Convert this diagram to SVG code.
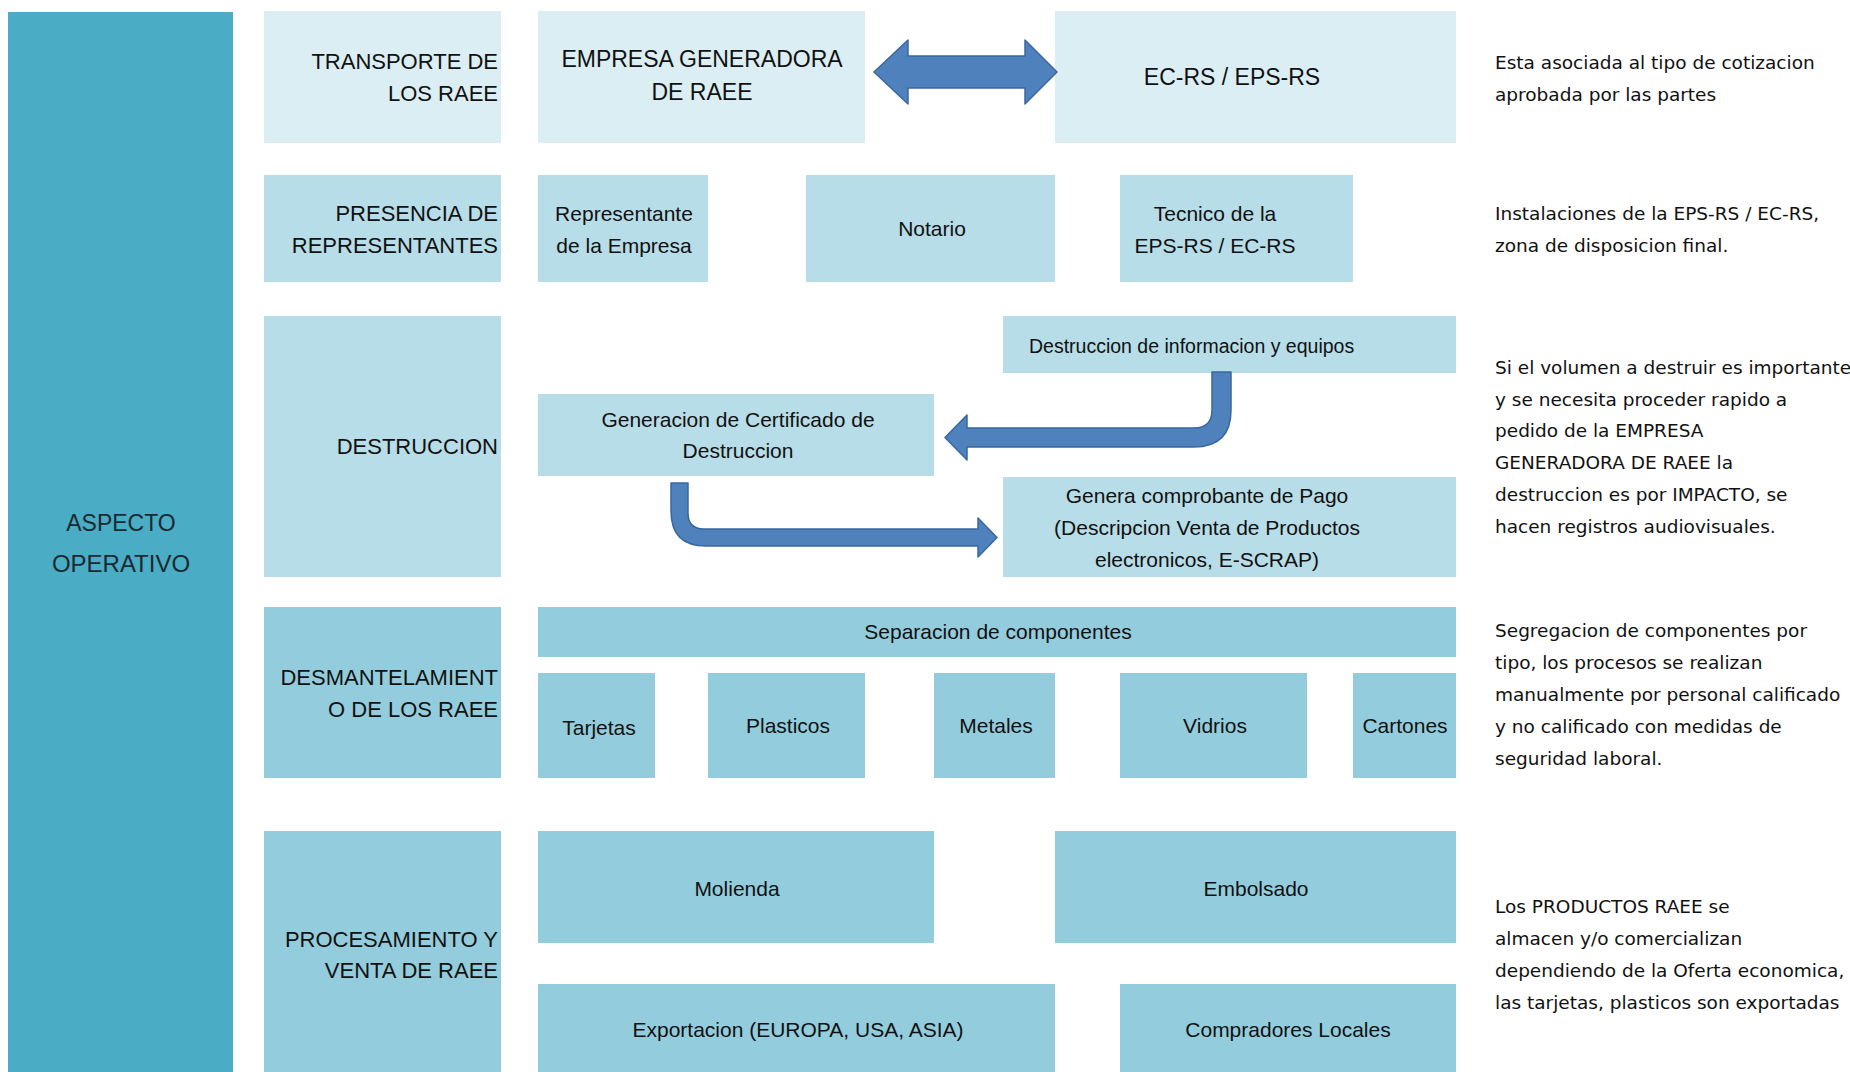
<svg xmlns="http://www.w3.org/2000/svg" width="1850" height="1072" viewBox="0 0 1850 1072">
<style>
.c1{fill:#DBEEF4}
.c2{fill:#B7DDE8}
.c3{fill:#93CDDD}
.main{fill:#4BACC6}
text{font-family:"Liberation Sans",Arial,sans-serif;fill:#111}
.lbl{font-size:22px;text-anchor:end}
.bx{font-size:21px;text-anchor:middle}
.big{font-size:23px;text-anchor:middle}
.note{font-family:"DejaVu Sans",Verdana,sans-serif;font-size:18.5px}
.arr{fill:#4F81BD;stroke:#3A679E;stroke-width:1.5;stroke-linejoin:round}
</style>
<rect width="1850" height="1072" fill="#FFFFFF"/>

<g id="aspecto-operativo">
<rect class="main" x="8" y="12" width="225" height="1060"/>
<text class="big" x="121" y="531" style="fill:#1a2a30">ASPECTO</text>
<text class="big" x="121" y="572" style="fill:#1a2a30;font-size:24px">OPERATIVO</text>
</g>

<!-- Row 1 -->
<g id="transporte">
<rect class="c1" x="264" y="11" width="237" height="132"/>
<text class="lbl" x="498" y="69">TRANSPORTE DE</text>
<text class="lbl" x="498" y="101">LOS RAEE</text>
</g>
<g id="empresa-generadora">
<rect class="c1" x="538" y="11" width="327" height="132"/>
<text class="big" x="702" y="67">EMPRESA GENERADORA</text>
<text class="big" x="702" y="100">DE RAEE</text>
</g>
<g id="ec-rs">
<rect class="c1" x="1055" y="11" width="401" height="132"/>
<text class="big" x="1232" y="85">EC-RS / EPS-RS</text>
</g>
<g id="note-transporte">
<text class="note" x="1495" y="69">Esta asociada al tipo de cotizacion</text>
<text class="note" x="1495" y="101">aprobada por las partes</text>
</g>

<!-- Row 2 -->
<g id="presencia">
<rect class="c2" x="264" y="175" width="237" height="107"/>
<text class="lbl" x="498" y="221">PRESENCIA DE</text>
<text class="lbl" x="498" y="253">REPRESENTANTES</text>
</g>
<g id="representante">
<rect class="c2" x="538" y="175" width="170" height="107"/>
<text class="bx" x="624" y="221">Representante</text>
<text class="bx" x="624" y="253">de la Empresa</text>
</g>
<g id="notario">
<rect class="c2" x="806" y="175" width="249" height="107"/>
<text class="bx" x="932" y="236">Notario</text>
</g>
<g id="tecnico">
<rect class="c2" x="1120" y="175" width="233" height="107"/>
<text class="bx" x="1215" y="221">Tecnico de la</text>
<text class="bx" x="1215" y="253">EPS-RS / EC-RS</text>
</g>
<g id="note-presencia">
<text class="note" x="1495" y="220">Instalaciones de la EPS-RS / EC-RS,</text>
<text class="note" x="1495" y="252">zona de disposicion final.</text>
</g>

<!-- Row 3 -->
<g id="destruccion">
<rect class="c2" x="264" y="316" width="237" height="261"/>
<text class="lbl" x="498" y="454">DESTRUCCION</text>
</g>
<g id="destruccion-info">
<rect class="c2" x="1003" y="316" width="453" height="57"/>
<text x="1029" y="353" style="font-size:19.5px">Destruccion de informacion y equipos</text>
</g>
<g id="certificado">
<rect class="c2" x="538" y="394" width="396" height="82"/>
<text class="bx" x="738" y="427">Generacion de Certificado de</text>
<text class="bx" x="738" y="458">Destruccion</text>
</g>
<g id="comprobante">
<rect class="c2" x="1003" y="477" width="453" height="100"/>
<text class="bx" x="1207" y="503">Genera comprobante de Pago</text>
<text class="bx" x="1207" y="535">(Descripcion Venta de Productos</text>
<text class="bx" x="1207" y="567">electronicos, E-SCRAP)</text>
</g>
<g id="note-destruccion">
<text class="note" x="1495" y="374">Si el volumen a destruir es importante</text>
<text class="note" x="1495" y="406">y se necesita proceder rapido a</text>
<text class="note" x="1495" y="437">pedido de la EMPRESA</text>
<text class="note" x="1495" y="469">GENERADORA DE RAEE la</text>
<text class="note" x="1495" y="501">destruccion es por IMPACTO, se</text>
<text class="note" x="1495" y="533">hacen registros audiovisuales.</text>
</g>

<!-- Row 4 -->
<g id="desmantelamiento">
<rect class="c3" x="264" y="607" width="237" height="171"/>
<text class="lbl" x="498" y="685">DESMANTELAMIENT</text>
<text class="lbl" x="498" y="717">O DE LOS RAEE</text>
</g>
<g id="separacion">
<rect class="c3" x="538" y="607" width="918" height="50"/>
<text class="bx" x="998" y="639">Separacion de componentes</text>
</g>
<g id="tarjetas">
<rect class="c3" x="538" y="673" width="117" height="105"/>
<text class="bx" x="599" y="735">Tarjetas</text>
</g>
<g id="plasticos">
<rect class="c3" x="708" y="673" width="157" height="105"/>
<text class="bx" x="788" y="733">Plasticos</text>
</g>
<g id="metales">
<rect class="c3" x="934" y="673" width="121" height="105"/>
<text class="bx" x="996" y="733">Metales</text>
</g>
<g id="vidrios">
<rect class="c3" x="1120" y="673" width="187" height="105"/>
<text class="bx" x="1215" y="733">Vidrios</text>
</g>
<g id="cartones">
<rect class="c3" x="1353" y="673" width="103" height="105"/>
<text class="bx" x="1405" y="733">Cartones</text>
</g>
<g id="note-desmantelamiento">
<text class="note" x="1495" y="637">Segregacion de componentes por</text>
<text class="note" x="1495" y="669">tipo, los procesos se realizan</text>
<text class="note" x="1495" y="701">manualmente por personal calificado</text>
<text class="note" x="1495" y="733">y no calificado con medidas de</text>
<text class="note" x="1495" y="765">seguridad laboral.</text>
</g>

<!-- Row 5 -->
<g id="procesamiento">
<rect class="c3" x="264" y="831" width="237" height="241"/>
<text class="lbl" x="498" y="947">PROCESAMIENTO Y</text>
<text class="lbl" x="498" y="978">VENTA DE RAEE</text>
</g>
<g id="molienda">
<rect class="c3" x="538" y="831" width="396" height="112"/>
<text class="bx" x="737" y="896">Molienda</text>
</g>
<g id="embolsado">
<rect class="c3" x="1055" y="831" width="401" height="112"/>
<text class="bx" x="1256" y="896">Embolsado</text>
</g>
<g id="exportacion">
<rect class="c3" x="538" y="984" width="517" height="88"/>
<text class="bx" x="798" y="1037">Exportacion (EUROPA, USA, ASIA)</text>
</g>
<g id="compradores">
<rect class="c3" x="1120" y="984" width="336" height="88"/>
<text class="bx" x="1288" y="1037">Compradores Locales</text>
</g>
<g id="note-procesamiento">
<text class="note" x="1495" y="913">Los PRODUCTOS RAEE se</text>
<text class="note" x="1495" y="945">almacen y/o comercializan</text>
<text class="note" x="1495" y="977">dependiendo de la Oferta economica,</text>
<text class="note" x="1495" y="1009">las tarjetas, plasticos son exportadas</text>
</g>

<g id="connectors">
<path class="arr" d="M874 72 L908 40 L908 56 L1025 56 L1025 40 L1057 72 L1025 104 L1025 88 L908 88 L908 104 Z"/>
<path class="arr" d="M1212 372 L1231 372 L1231 410 Q1231 447 1194 447 L967 447 L967 460 L945 437.5 L967 415 L967 428 L1194 428 Q1212 428 1212 410 Z"/>
<path class="arr" d="M671 483 L688 483 L688 513 Q688 529 704 529 L978 529 L978 518 L997 537.5 L978 557 L978 546 L706 546 Q671 546 671 511 Z"/>
</g>
</svg>
